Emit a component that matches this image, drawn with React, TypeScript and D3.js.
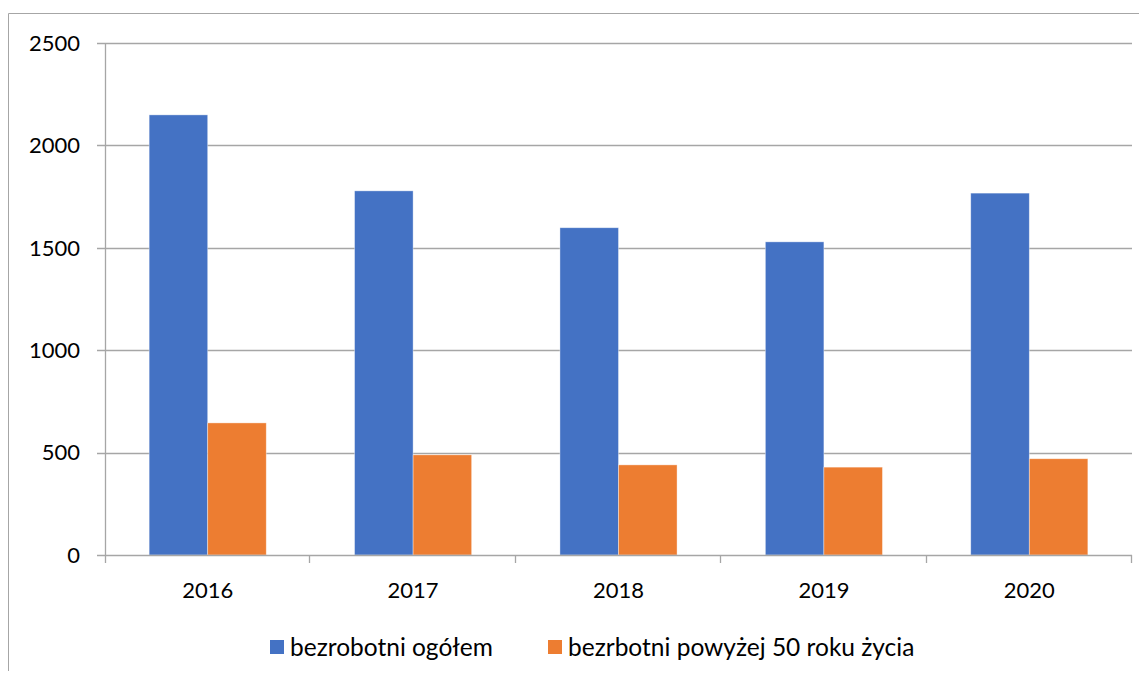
import { useEffect, useRef } from 'react'
import * as d3 from 'd3'

const years = ['2016', '2017', '2018', '2019', '2020']
const totalUnemployed = [2149, 1778, 1598, 1529, 1767]
const over50Unemployed = [645, 489, 440, 429, 470]
const yTicks = [0, 500, 1000, 1500, 2000, 2500]
const seriesNames = ['bezrobotni ogółem', 'bezrbotni powyżej 50 roku życia']
const seriesColors = ['#4472C4', '#ED7D31']

const W = 1139
const H = 663
const FONT = 'Lato, "Open Sans", sans-serif'

export default function App() {
  const svgRef = useRef<SVGSVGElement>(null)

  useEffect(() => {
    const svgEl = svgRef.current
    if (!svgEl) return

    const margin = { top: 35, right: 15, bottom: 116, left: 97 }
    const innerW = W - margin.left - margin.right
    const innerH = H - margin.top - margin.bottom

    const svg = d3.select(svgEl)
    svg.selectAll('*').remove()

    // chart frame (only top and left edges are inside the picture)
    svg.append('line').attr('x1', 0.5).attr('x2', W + 20).attr('y1', 5.5).attr('y2', 5.5)
      .style('stroke', '#a6a6a6').style('stroke-width', '1')
    svg.append('line').attr('x1', 0.5).attr('x2', 0.5).attr('y1', 5.5).attr('y2', H + 30)
      .style('stroke', '#a6a6a6').style('stroke-width', '1')

    const g = svg.append('g').attr('transform', `translate(${margin.left},${margin.top})`)

    const x0 = d3.scaleBand().domain(years).range([0, innerW]).paddingInner(0).paddingOuter(0)
    const x1 = d3.scaleBand().domain(['0', '1']).range([0, x0.bandwidth()]).paddingOuter(0.754).paddingInner(0)
    const y = d3.scaleLinear().domain([0, 2500]).range([innerH, 0])

    // gridlines
    g.append('g')
      .selectAll('line')
      .data(yTicks.slice(1))
      .enter()
      .append('line')
      .attr('x1', -8)
      .attr('x2', innerW)
      .attr('y1', d => Math.round(y(d)) + 0.5)
      .attr('y2', d => Math.round(y(d)) + 0.5)
      .style('stroke', '#a6a6a6')
      .style('stroke-width', '1.3')

    // y tick labels
    g.append('g')
      .selectAll('text')
      .data(yTicks)
      .enter()
      .append('text')
      .attr('x', -25)
      .attr('y', d => y(d))
      .attr('dy', '0.35em')
      .attr('text-anchor', 'end')
      .style('font-family', FONT)
      .style('font-size', '22px')
      .style('fill', '#000')
      .text(d => d)

    // bars
    const rows = years.map((yr, i) => ({ year: yr, values: [totalUnemployed[i], over50Unemployed[i]] }))
    const groups = g.selectAll('g.year')
      .data(rows)
      .enter()
      .append('g')
      .attr('class', 'year')
      .attr('transform', d => `translate(${x0(d.year)},0)`)

    groups.selectAll('rect')
      .data(d => d.values.map((v, k) => ({ k, v })))
      .enter()
      .append('rect')
      .attr('x', d => x1(String(d.k))!)
      .attr('width', x1.bandwidth())
      .attr('y', d => y(d.v))
      .attr('height', d => innerH - y(d.v))
      .style('fill', d => seriesColors[d.k])
      .style('stroke', '#ffffff')
      .style('stroke-opacity', '0.5')
      .style('stroke-width', '0.75')

    // x axis
    const xAxisG = g.append('g').attr('transform', `translate(0,${innerH})`)
    xAxisG.append('line').attr('x1', -8).attr('x2', innerW).attr('y1', 0.5).attr('y2', 0.5)
      .style('stroke', '#a6a6a6').style('stroke-width', '1.3')
    xAxisG.append('line').attr('x1', 0.5).attr('x2', 0.5).attr('y1', -innerH).attr('y2', 8)
      .style('stroke', '#a6a6a6').style('stroke-width', '1.3')
    const tickPos = years.map(yr => x0(yr)!).concat([innerW])
    xAxisG.selectAll('line.tick')
      .data(tickPos.slice(1))
      .enter()
      .append('line')
      .attr('class', 'tick')
      .attr('x1', d => Math.round(d) - 0.5)
      .attr('x2', d => Math.round(d) - 0.5)
      .attr('y1', 0)
      .attr('y2', 8)
      .style('stroke', '#a6a6a6')
      .style('stroke-width', '1.3')
    xAxisG.selectAll('text')
      .data(years)
      .enter()
      .append('text')
      .attr('x', d => x0(d)! + x0.bandwidth() / 2)
      .attr('y', 43)
      .attr('text-anchor', 'middle')
      .style('font-family', FONT)
      .style('font-size', '22px')
      .style('fill', '#000')
      .text(d => d)

    // legend
    const legendX = [262, 540]
    const legend = svg.append('g')
    seriesNames.forEach((name, i) => {
      legend.append('rect')
        .attr('x', legendX[i])
        .attr('y', 632)
        .attr('width', 14)
        .attr('height', 14)
        .style('fill', seriesColors[i])
      legend.append('text')
        .attr('x', legendX[i] + 20)
        .attr('y', 639)
        .attr('dy', '0.35em')
        .style('font-family', FONT)
        .style('font-size', '24.5px')
        .style('fill', '#000')
        .text(name)
    })
  }, [])

  return (
    <svg ref={svgRef} width={W} height={H} style={{ display: 'block', overflow: 'visible' }} />
  )
}
